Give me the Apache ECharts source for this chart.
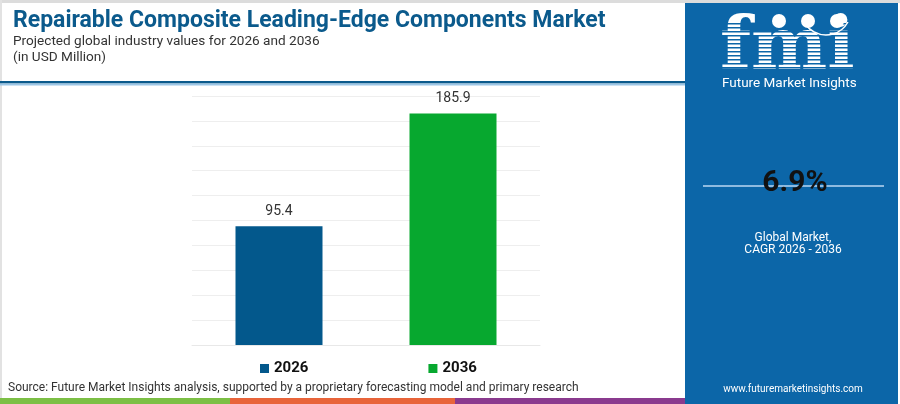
<!DOCTYPE html>
<html>
<head>
<meta charset="utf-8">
<script src="https://cdn.jsdelivr.net/npm/echarts@6/dist/echarts.min.js"></script>
<style>
html,body{margin:0;padding:0;background:#fff;}
#c{width:900px;height:404px;}
</style>
</head>
<body>
<div id="c"></div>
<script>
var categories = ['2026', '2036'];
var values2026 = [95.4, null];
var values2036 = [null, 185.9];
var yTicks = {min: 0, max: 200, interval: 20};
var cagrText = '6.9%';

var chart = echarts.init(document.getElementById('c'), null, {renderer: 'canvas'});

var panelColor = '#0c66a8';
var stripes = [];
for (var y = 23; y < 72; y += 4) {
  stripes.push({type: 'rect', shape: {x: 715, y: y, width: 140, height: 1.4}, style: {fill: panelColor}, z: 102});
}

var option = {
  animation: false,
  backgroundColor: '#fff',
  title: [
    {text: 'Repairable Composite Leading-Edge Components Market', left: 8, top: 5,
     textStyle: {fontFamily: 'Roboto', fontWeight: 'bold', fontSize: 23, color: '#0b5a8c'}},
    {text: 'Projected global industry values for 2026 and 2036\n(in USD Million)', left: 8, top: 29,
     textStyle: {fontFamily: 'Roboto', fontWeight: 'normal', fontSize: 13.6, color: '#333', lineHeight: 16}}
  ],
  legend: {
    data: categories,
    left: 255, top: 356,
    icon: 'rect', itemWidth: 9, itemHeight: 9, itemGap: 120,
    textStyle: {fontFamily: 'Roboto', fontWeight: 'bold', fontSize: 15, color: '#111'}
  },
  grid: {left: 192, right: 360, top: 96, bottom: 59},
  xAxis: {
    type: 'category', data: categories,
    axisLine: {show: true, lineStyle: {color: '#e8e8e8'}},
    axisTick: {show: false}, axisLabel: {show: false}
  },
  yAxis: {
    type: 'value', min: yTicks.min, max: yTicks.max, interval: yTicks.interval,
    axisLabel: {show: false}, axisLine: {show: false}, axisTick: {show: false},
    splitLine: {lineStyle: {color: '#eeeeee'}}
  },
  series: [
    {name: '2026', type: 'bar', data: values2026, barWidth: '50%', barGap: '-100%',
     itemStyle: {color: '#03588c'},
     label: {show: true, position: 'top', distance: 8, fontFamily: 'Roboto', fontSize: 14, color: '#333'}},
    {name: '2036', type: 'bar', data: values2036, barWidth: '50%', barGap: '-100%',
     itemStyle: {color: '#07a82f'},
     label: {show: true, position: 'top', distance: 8, fontFamily: 'Roboto', fontSize: 14, color: '#333'}}
  ],
  graphic: [
    {type: 'rect', shape: {x: 0, y: 0, width: 900, height: 3}, style: {fill: '#dcdcdc'}, z: 50},
    {type: 'rect', shape: {x: 0, y: 0, width: 2, height: 404}, style: {fill: '#e2e2e2'}, z: 50},
    {type: 'rect', shape: {x: 0, y: 81, width: 685, height: 2.5}, style: {fill: '#0b5a8c'}, z: 50},
    {type: 'rect', shape: {x: 0, y: 83.5, width: 685, height: 2}, style: {fill: '#9cc6e6'}, z: 50},
    {type: 'text', left: 8, top: 382, style: {text: 'Source: Future Market Insights analysis, supported by a proprietary forecasting model and primary research',
      font: '12px Roboto', fill: '#333'}, z: 50},
    {type: 'rect', shape: {x: 0, y: 398, width: 230, height: 6}, style: {fill: '#7cbf45'}, z: 50},
    {type: 'rect', shape: {x: 230, y: 398, width: 225, height: 6}, style: {fill: '#e8643a'}, z: 50},
    {type: 'rect', shape: {x: 455, y: 398, width: 230, height: 6}, style: {fill: '#8a3a8e'}, z: 50},
    {type: 'rect', shape: {x: 685, y: 3, width: 213, height: 401}, style: {fill: panelColor}, z: 100},
    {type: 'text', left: 720, top: 14, style: {text: 'fmi', font: 'bold 72px "DejaVu Serif"', fill: '#ffffff'}, z: 101},
    {type: 'circle', shape: {cx: 779, cy: 21, r: 7}, style: {fill: '#ffffff'}, z: 103},
    {type: 'circle', shape: {cx: 808, cy: 21, r: 7}, style: {fill: '#ffffff'}, z: 103},
    {type: 'circle', shape: {cx: 837, cy: 21, r: 7}, style: {fill: '#ffffff'}, z: 103},
    {type: 'arc', shape: {cx: 826, cy: 10, r: 25, startAngle: 0.5, endAngle: 2.5}, style: {stroke: '#ffffff', lineWidth: 1.5, fill: null}, z: 103},
    {type: 'text', left: 722, top: 77, style: {text: 'Future Market Insights', font: '13.5px Roboto', fill: '#ffffff'}, z: 101},
    {type: 'rect', shape: {x: 703, y: 185, width: 181, height: 2}, style: {fill: '#8fbbe0'}, z: 101},
    {type: 'text', x: 795, y: 183, style: {text: cagrText, font: 'bold 30px Roboto', fill: '#111', align: 'center', verticalAlign: 'middle'}, z: 102},
    {type: 'text', x: 793, y: 238, style: {text: 'Global Market,', font: '12px Roboto', fill: '#ffffff', align: 'center', verticalAlign: 'middle'}, z: 101},
    {type: 'text', x: 793, y: 250, style: {text: 'CAGR 2026 - 2036', font: '12px Roboto', fill: '#ffffff', align: 'center', verticalAlign: 'middle'}, z: 101},
    {type: 'text', x: 793, y: 389, style: {text: 'www.futuremarketinsights.com', font: '10px Roboto', fill: '#ffffff', align: 'center', verticalAlign: 'middle'}, z: 101}
  ].concat(stripes)
};
chart.setOption(option);
</script>
</body>
</html>
